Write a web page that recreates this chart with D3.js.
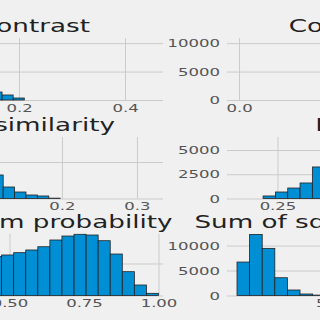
<!DOCTYPE html>
<html>
<head>
<meta charset="utf-8">
<script src="https://cdn.jsdelivr.net/npm/d3@7"></script>
<style>
body { margin: 0; background: #f0f0f0; }
svg { display: block; font-family: "DejaVu Sans", sans-serif; }
</style>
</head>
<body>
<svg id="svg" width="320" height="320"></svg>
<script>
// feature names, one panel each (2 columns x 3 rows)
var titles = ["Contrast", "Correlation", "Dissimilarity", "Energy", "Maximum probability", "Sum of squares: variance"];

// histogram counts, 20 bins per feature
var contrastCounts      = [4100, 10300, 9400, 6900, 4600, 3000, 2000, 1400, 880, 350, 0, 0, 0, 0, 0, 0, 0, 0, 0, 0];
var correlationCounts   = [0, 0, 0, 0, 0, 0, 0, 0, 30, 120, 340, 760, 1400, 2300, 3600, 5200, 7400, 9800, 10300, 6200];
var dissimilarityCounts = [3100, 9800, 15200, 14100, 12300, 10400, 8500, 6440, 3150, 1780, 960, 690, 100, 0, 0, 0, 0, 0, 0, 0];
var energyCounts        = [260, 670, 1080, 1600, 3250, 4300, 5100, 5600, 6000, 5700, 5000, 4100, 3300, 2500, 1800, 1200, 700, 400, 200, 80];
var maxProbCounts       = [150, 600, 1800, 3400, 4900, 5800, 6100, 6330, 6690, 7110, 7620, 8670, 9290, 9560, 9450, 8560, 6480, 3720, 1640, 340];
var sumSquaresCounts    = [6700, 12240, 9440, 3560, 1100, 300, 80, 30, 0, 0, 0, 0, 0, 0, 0, 0, 0, 0, 0, 0];

// first bin edge and bin width of each histogram
var binStarts = [0, 0, 0, 0.205, 0.19, 9.55];
var binWidths = [0.021, 0.05, 0.0152, 0.0385, 0.0405, 5.727];

// axis limits and ticks
var xDomains = [[-0.0151, 0.4717], [-0.05, 1.0636], [-0.0093, 0.3347], [0.0922, 0.9297], [0.1493, 1.0151], [5, 126.8]];
var yDomains = [[0, 10900], [0, 10900], [0, 16850], [0, 6340], [0, 9670], [0, 12400]];
var xTicks = [[0, 0.2, 0.4], [0, 0.5, 1.0], [0, 0.1, 0.2, 0.3], [0.25, 0.5, 0.75], [0.25, 0.5, 0.75, 1.0], [50, 100]];
var yTicks = [[0, 5000, 10000], [0, 5000, 10000], [0, 10000], [0, 2500, 5000], [0, 5000], [0, 5000, 10000]];
var xFormats = [".1f", ".1f", ".1f", ".2f", ".2f", "d"];

var allCounts = [contrastCounts, correlationCounts, dissimilarityCounts, energyCounts, maxProbCounts, sumSquaresCounts];

// layout (the source picture is stretched sideways, so text is too)
var colX = [[-95, 163], [227, 495]];
var rowY = [[38, 100], [137, 198.5], [233.6, 295.5]];
var tickStretch = 1.5;
var titleStretch = 1.54;

var svg = d3.select("#svg");
svg.append("rect").attr("width", 320).attr("height", 320).attr("fill", "#f0f0f0");

titles.forEach(function(title, i) {
	var xr = colX[i % 2], yr = rowY[Math.floor(i / 2)];
	var x = d3.scaleLinear().domain(xDomains[i]).range(xr);
	var y = d3.scaleLinear().domain(yDomains[i]).range([yr[1], yr[0]]);
	var xt = xTicks[i].filter(function(v) { return v >= xDomains[i][0] && v <= xDomains[i][1]; });
	var yt = yTicks[i].filter(function(v) { return v >= yDomains[i][0] && v <= yDomains[i][1]; });
	var g = svg.append("g");

	// grid
	var gx = g.append("g").attr("transform", "translate(0," + yr[1] + ")")
		.call(d3.axisBottom(x).tickValues(xt).tickSize(-(yr[1] - yr[0])).tickFormat(""));
	var gy = g.append("g").attr("transform", "translate(" + xr[0] + ",0)")
		.call(d3.axisLeft(y).tickValues(yt).tickSize(-(xr[1] - xr[0])).tickFormat(""));
	[gx, gy].forEach(function(a) {
		a.select(".domain").remove();
		a.selectAll("line").attr("stroke", "#cbcbcb").attr("stroke-width", 1);
	});

	// bars
	var bins = allCounts[i].map(function(c, k) {
		return {x0: binStarts[i] + k * binWidths[i], x1: binStarts[i] + (k + 1) * binWidths[i], n: c};
	}).filter(function(d) { return d.n > 0; });
	g.selectAll(".bar").data(bins).enter()
		.append("rect")
		.attr("class", "bar")
		.attr("x", function(d) { return x(d.x0); })
		.attr("width", function(d) { return x(d.x1) - x(d.x0); })
		.attr("y", function(d) { return y(d.n); })
		.attr("height", function(d) { return y(0) - y(d.n); })
		.attr("fill", "#008fd5")
		.attr("stroke", "#222")
		.attr("stroke-width", 0.8);

	// tick labels
	var ax = g.append("g").attr("transform", "translate(0," + yr[1] + ")")
		.call(d3.axisBottom(x).tickValues(xt).tickSize(0).tickPadding(4).tickFormat(d3.format(xFormats[i])));
	var ay = g.append("g").attr("transform", "translate(" + xr[0] + ",0)")
		.call(d3.axisLeft(y).tickValues(yt).tickSize(0).tickPadding(0).tickFormat(d3.format("d")));
	ay.selectAll("text").attr("x", -7 / tickStretch);
	[ax, ay].forEach(function(a) {
		a.select(".domain").remove();
		a.attr("font-family", "DejaVu Sans").attr("font-size", 11);
		a.selectAll("text").attr("fill", "#555").attr("transform", "scale(" + tickStretch + ",1)");
	});

	// title
	g.append("text")
		.attr("transform", "translate(" + (xr[0] + xr[1]) / 2 + "," + (yr[0] - 6) + ") scale(" + titleStretch + ",1)")
		.attr("text-anchor", "middle")
		.attr("font-size", 17)
		.attr("fill", "#222")
		.text(title);
});
</script>
</body>
</html>
